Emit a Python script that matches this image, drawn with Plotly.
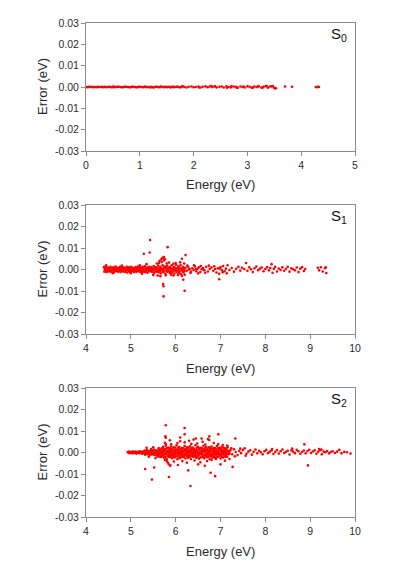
import plotly.graph_objects as go

# ---------------- data ----------------
s0_energy = [0.01,0.05,0.09,0.13,0.18,0.22,0.27,0.31,0.35,0.40,0.44,0.48,0.53,0.57,0.61,0.66,0.70,0.74,0.79,0.83,
             0.87,0.92,0.96,1.00,1.05,1.09,1.13,1.18,1.22,1.26,1.31,1.35,1.39,1.44,1.48,1.52,1.57,1.61,1.65,1.70,
             1.74,1.78,1.83,1.87,1.91,1.96,2.00,2.04,2.09,2.13,2.17,2.22,2.26,2.30,2.35,2.39,2.43,2.48,2.52,2.56,
             2.61,2.65,2.69,2.74,2.78,2.82,2.87,2.91,2.95,3.00,3.04,3.08,3.13,3.17,3.21,3.26,3.30,3.34,3.38,3.42,
             3.45,3.50,3.53,3.70,3.83,4.27,4.29,4.31,4.33,
             0.50,1.20,1.80,2.10,2.33,2.40,2.62,2.70,2.80,2.93,3.10,3.20,3.28,3.36,3.47,3.51,
             0.03,0.07,0.11,0.15,0.20,0.24,0.29,0.33,0.37,0.42,0.46,0.51,0.55,0.59,0.64,0.68,0.72,0.77,0.81,0.85,
             0.90,0.94,0.98,1.03,1.07,1.11,1.16,1.24,1.29,1.33,1.37,1.42,1.46,1.50,1.55,1.59,1.63,1.68,1.72,1.76]
s0_error = [0.0000,0.0001,0.0000,-0.0001,0.0000,0.0001,0.0000,-0.0001,0.0001,0.0000,0.0000,-0.0001,0.0001,0.0000,0.0001,-0.0001,0.0000,0.0001,0.0000,-0.0001,
            0.0001,0.0000,-0.0001,0.0001,0.0000,0.0002,-0.0001,0.0000,0.0001,-0.0002,0.0001,0.0000,0.0002,-0.0001,0.0001,0.0000,-0.0002,0.0002,0.0000,0.0001,
            -0.0001,0.0002,0.0000,-0.0002,0.0001,0.0002,-0.0001,0.0000,0.0002,-0.0002,0.0001,0.0003,-0.0001,0.0002,0.0000,0.0003,-0.0002,0.0001,0.0002,-0.0002,
            0.0003,0.0000,-0.0002,0.0002,0.0001,-0.0003,0.0002,0.0000,-0.0002,0.0003,0.0001,-0.0003,0.0002,0.0000,0.0003,-0.0002,0.0001,0.0004,-0.0003,0.0002,
            0.0003,-0.0004,-0.0006,0.0002,0.0001,0.0000,-0.0001,0.0001,0.0000,
            0.0002,-0.0002,0.0003,-0.0002,0.0004,0.0003,-0.0003,0.0003,-0.0003,0.0002,-0.0003,0.0003,-0.0004,0.0005,0.0004,-0.0006,
            -0.0001,0.0000,0.0001,0.0000,-0.0001,0.0000,0.0001,0.0000,-0.0001,0.0001,0.0000,-0.0001,0.0000,0.0001,0.0000,-0.0001,0.0001,0.0000,-0.0001,0.0001,
            0.0000,-0.0001,0.0001,0.0000,-0.0001,0.0001,0.0000,-0.0001,0.0001,0.0000,-0.0001,0.0001,0.0000,-0.0001,0.0001,0.0000,-0.0001,0.0001,0.0000,-0.0001]

s1_energy = [4.40,4.45,4.50,4.55,4.61,4.66,4.71,4.76,4.81,4.86,4.91,4.96,5.01,5.06,5.11,5.16,5.21,5.26,5.31,5.36,5.41,5.46,5.51,5.56,5.61,5.66,5.71,5.76,5.81,5.86,5.91,5.96,6.01,6.06,6.11,6.16,
             4.42,4.47,4.52,4.58,4.63,4.68,4.73,4.78,4.83,4.88,4.93,4.98,5.03,5.08,5.13,5.18,5.23,5.28,5.33,5.38,5.43,5.48,5.53,5.58,5.63,5.68,5.73,5.78,5.83,5.88,5.93,5.98,6.03,6.08,6.13,6.18,
             4.41,4.46,4.51,4.56,4.62,4.67,4.72,4.77,4.82,4.87,4.92,4.97,5.02,5.07,5.12,5.17,5.22,5.27,5.32,5.37,5.42,5.47,5.52,5.57,5.62,5.67,5.72,5.77,5.82,5.87,5.92,5.97,6.02,6.07,6.12,6.17,
             4.43,4.48,4.53,4.59,4.64,4.69,4.74,4.79,4.84,4.89,4.94,4.99,5.04,5.09,5.14,5.19,5.24,5.29,5.34,5.39,5.44,5.49,5.54,5.59,5.64,5.69,5.74,5.79,5.84,5.89,5.94,5.99,6.04,6.09,6.14,6.19,
             4.44,4.49,4.54,4.60,4.65,4.70,4.75,4.80,4.85,4.90,4.95,5.00,5.05,5.10,5.15,5.20,5.25,5.30,5.35,5.40,5.45,5.50,5.55,5.60,5.65,5.70,5.75,5.80,5.85,5.90,5.95,6.00,6.05,6.10,6.15,6.20,
             5.35,5.50,5.58,5.63,5.69,5.74,5.70,5.76,5.80,5.85,5.90,5.95,6.00,6.05,6.10,6.14,6.19,5.60,5.66,5.78,5.95,6.20,4.45,4.60,4.80,5.00,5.20,5.25,
             5.43,5.82,5.29,5.42,6.22,5.71,5.74,5.68,5.64,5.72,5.73,5.73,6.20,6.17,6.97,6.14,
             6.22,6.25,6.28,6.31,6.34,6.37,6.40,6.43,6.46,6.49,6.52,6.55,6.58,6.61,6.64,6.68,6.72,6.76,6.80,6.84,6.88,6.91,6.94,6.97,7.00,7.03,7.06,7.09,7.12,7.16,
             7.20,7.25,7.30,7.35,7.40,7.44,7.48,7.53,7.57,7.60,7.64,7.68,7.72,7.76,7.80,7.84,7.88,7.92,7.96,8.00,8.04,8.08,8.11,8.14,8.16,8.19,8.22,8.26,8.30,8.34,
             8.38,8.42,8.46,8.50,8.54,8.58,8.62,8.66,8.70,8.74,8.78,8.82,8.86,8.89,9.17,9.20,9.24,9.28,9.33,9.36,9.35,
             6.26,6.33,6.41,6.50,6.56,6.66,6.74,6.86,6.98,7.05,7.14,6.30,6.45,6.62]
s1_error = [0.0011,0.0013,0.0009,0.0012,0.0010,0.0014,0.0008,0.0012,0.0011,0.0009,0.0013,0.0010,0.0012,0.0008,0.0011,0.0014,0.0010,0.0012,0.0015,0.0009,0.0013,0.0011,0.0016,0.0010,0.0018,0.0012,0.0020,0.0014,0.0017,0.0011,0.0019,0.0013,0.0022,0.0015,0.0021,0.0012,
            0.0001,-0.0002,0.0003,0.0000,0.0002,-0.0001,0.0004,-0.0002,0.0001,0.0003,-0.0001,0.0002,0.0000,0.0003,-0.0002,0.0001,0.0004,-0.0001,0.0002,0.0000,0.0003,-0.0002,0.0001,0.0004,-0.0003,0.0002,0.0000,0.0005,-0.0002,0.0003,0.0001,-0.0003,0.0004,0.0000,0.0002,-0.0001,
            -0.0010,-0.0012,-0.0009,-0.0011,-0.0013,-0.0008,-0.0010,-0.0012,-0.0009,-0.0011,-0.0014,-0.0010,-0.0008,-0.0012,-0.0011,-0.0009,-0.0013,-0.0010,-0.0012,-0.0015,-0.0009,-0.0011,-0.0016,-0.0010,-0.0013,-0.0018,-0.0012,-0.0020,-0.0011,-0.0016,-0.0014,-0.0019,-0.0012,-0.0017,-0.0022,-0.0013,
            0.0006,0.0005,0.0007,0.0006,0.0004,0.0007,0.0005,0.0006,0.0008,0.0005,0.0006,0.0007,0.0004,0.0006,0.0005,0.0007,0.0006,0.0008,0.0005,0.0007,0.0006,0.0004,0.0008,0.0006,0.0007,0.0005,0.0009,0.0006,0.0007,0.0008,0.0005,0.0007,0.0006,0.0009,0.0005,0.0007,
            -0.0005,-0.0007,-0.0006,-0.0004,-0.0006,-0.0007,-0.0005,-0.0006,-0.0008,-0.0005,-0.0006,-0.0007,-0.0004,-0.0006,-0.0005,-0.0007,-0.0006,-0.0008,-0.0005,-0.0007,-0.0006,-0.0004,-0.0008,-0.0006,-0.0007,-0.0005,-0.0009,-0.0006,-0.0007,-0.0008,-0.0005,-0.0007,-0.0006,-0.0009,-0.0005,-0.0007,
            0.0025,-0.0025,0.0028,0.0030,0.0035,0.0042,0.0052,0.0048,0.0028,0.0032,-0.0024,0.0027,0.0030,-0.0026,0.0034,-0.0030,0.0028,-0.0028,-0.0031,-0.0027,-0.0028,-0.0024,0.0019,-0.0017,0.0018,-0.0017,0.0020,-0.0020,
            0.0137,0.0104,0.0073,0.0079,0.0067,0.0055,0.0058,0.0047,0.0040,-0.0068,-0.0078,-0.0125,-0.0099,-0.0048,-0.0045,0.0050,
            0.0008,-0.0005,0.0012,0.0002,-0.0010,0.0006,-0.0002,0.0014,-0.0008,0.0004,0.0010,-0.0012,0.0001,0.0007,-0.0004,0.0013,-0.0009,0.0003,0.0009,-0.0006,0.0002,-0.0014,0.0006,-0.0020,0.0011,-0.0003,0.0016,-0.0008,0.0004,0.0020,
            -0.0002,0.0007,-0.0010,0.0003,0.0012,-0.0005,0.0008,0.0002,0.0030,-0.0006,0.0010,0.0001,-0.0012,0.0006,0.0014,-0.0003,0.0004,0.0009,-0.0008,0.0002,0.0011,-0.0004,0.0007,0.0025,-0.0015,0.0003,0.0012,-0.0009,0.0005,-0.0002,
            0.0010,-0.0006,0.0003,0.0013,-0.0010,0.0006,0.0001,-0.0004,0.0009,-0.0012,0.0004,0.0011,-0.0007,0.0002,0.0008,-0.0004,0.0010,-0.0009,0.0006,-0.0016,0.0010,
            0.0018,-0.0016,0.0020,-0.0018,0.0016,-0.0015,0.0018,0.0015,0.0004,-0.0013,-0.0018,0.0000,0.0002,-0.0001]

s2_energy = [4.93,4.96,4.99,5.02,5.05,5.08,5.11,5.14,5.17,5.20,5.23,5.26,5.29,
             4.95,4.98,5.01,5.04,5.07,5.10,5.13,5.16,5.19,5.22,5.25,5.28,
             5.72,5.78,5.84,5.90,5.96,6.02,6.08,6.14,6.20,6.26,6.32,6.38,6.44,6.50,6.56,6.62,6.68,6.74,6.80,6.86,6.92,6.98,7.04,7.10,7.16,
             5.31,5.36,5.41,5.46,5.51,5.56,5.61,5.66,5.71,5.76,5.81,5.86,5.91,5.96,6.01,6.06,6.11,6.16,6.21,6.26,6.31,6.36,6.41,6.46,6.51,6.56,6.61,6.66,6.71,6.76,6.81,6.86,6.91,6.96,7.01,7.06,7.11,7.17,
             5.33,5.38,5.43,5.48,5.53,5.58,5.63,5.68,5.73,5.78,5.83,5.88,5.93,5.98,6.03,6.08,6.13,6.18,6.23,6.28,6.33,6.38,6.43,6.48,6.53,6.58,6.63,6.68,6.73,6.78,6.83,6.88,6.93,6.98,7.03,7.08,7.13,7.19,
             5.32,5.37,5.42,5.47,5.52,5.57,5.62,5.67,5.72,5.77,5.82,5.87,5.92,5.97,6.02,6.07,6.12,6.17,6.22,6.27,6.32,6.37,6.42,6.47,6.52,6.57,6.62,6.67,6.72,6.77,6.82,6.87,6.92,6.97,7.02,7.07,7.12,7.18,
             5.74,5.80,5.86,5.92,5.98,6.04,6.10,6.16,6.22,6.28,6.34,6.40,6.46,6.52,6.58,6.64,6.70,6.76,6.82,6.88,6.94,7.00,7.06,7.12,
             5.30,5.35,5.40,5.45,5.50,5.55,5.60,5.65,5.70,5.75,5.80,5.85,5.90,5.95,6.00,6.05,6.10,6.15,6.20,6.25,6.30,6.35,6.40,6.45,6.50,6.55,6.60,6.65,6.70,6.75,6.80,6.85,6.90,6.95,7.00,7.05,7.10,7.15,
             5.34,5.39,5.44,5.49,5.54,5.59,5.64,5.69,5.74,5.79,5.84,5.89,5.94,5.99,6.04,6.09,6.14,6.19,6.24,6.29,6.34,6.39,6.44,6.49,6.54,6.59,6.64,6.69,6.74,6.79,6.84,6.89,6.94,6.99,7.04,7.09,7.14,7.20,
             5.63,5.69,5.75,5.81,5.87,5.93,5.99,6.05,6.11,6.17,6.23,6.29,6.35,6.41,6.47,6.53,6.59,6.65,6.71,6.77,6.83,6.89,6.95,7.01,7.07,7.13,
             5.65,5.71,5.77,5.83,5.89,5.95,6.01,6.07,6.13,6.19,6.25,6.31,6.37,6.43,6.49,6.55,6.61,6.67,6.73,6.79,6.85,6.91,6.97,7.03,7.09,7.15,
             5.35,5.40,5.50,5.55,5.62,5.67,5.76,5.78,5.80,5.82,5.84,5.88,5.76,5.90,5.96,6.04,6.10,6.15,6.20,6.25,6.30,6.35,6.42,6.48,6.55,6.60,6.66,6.70,6.75,6.80,
             6.85,6.90,6.95,7.00,7.05,7.10,7.15,7.20,5.45,5.60,6.65,6.50,6.05,6.40,5.87,6.58,6.72,
             5.78,6.20,5.77,5.78,6.95,6.75,7.33,8.87,8.95,5.32,5.47,5.85,6.33,6.78,6.88,6.28,7.27,5.52,5.87,6.20,6.10,6.45,
             7.22,7.26,7.30,7.34,7.38,7.42,7.46,7.50,7.54,7.58,7.62,7.66,7.70,7.74,7.78,7.82,7.86,7.90,7.94,7.98,8.02,8.06,8.10,8.14,8.18,8.22,8.26,8.30,8.34,8.38,
             8.42,8.46,8.50,8.54,8.58,8.62,8.66,8.70,8.74,8.78,8.82,8.86,8.90,8.94,8.98,9.02,9.06,9.10,9.14,9.18,9.22,9.26,9.30,9.34,9.38,9.42,9.46,9.50,9.55,9.60,
             9.65,9.70,9.76,9.82,9.90,
             7.24,7.32,7.44,7.56,8.60,9.20,9.25,8.15]
s2_error = [0.0002,0.0004,0.0001,0.0003,0.0005,0.0002,0.0004,0.0001,0.0003,0.0006,0.0002,0.0004,0.0003,
            -0.0002,-0.0003,-0.0001,-0.0004,-0.0002,-0.0003,-0.0005,-0.0001,-0.0003,-0.0002,-0.0006,-0.0004,
            0.0026,0.0031,0.0022,0.0028,0.0024,0.0033,0.0027,0.0021,0.0030,0.0025,0.0029,0.0023,0.0034,0.0026,0.0022,0.0031,0.0027,0.0024,0.0028,0.0021,0.0030,0.0023,0.0026,0.0020,0.0024,
            0.0009,0.0012,0.0007,0.0011,0.0014,0.0010,0.0008,0.0013,0.0011,0.0015,0.0009,0.0012,0.0014,0.0010,0.0013,0.0016,0.0011,0.0009,0.0014,0.0012,0.0010,0.0015,0.0013,0.0011,0.0016,0.0009,0.0012,0.0014,0.0010,0.0013,0.0015,0.0011,0.0009,0.0014,0.0012,0.0010,0.0013,0.0008,
            0.0001,-0.0002,0.0003,0.0000,-0.0001,0.0002,-0.0003,0.0001,0.0004,-0.0002,0.0000,0.0003,-0.0001,0.0002,-0.0003,0.0001,0.0000,0.0004,-0.0002,0.0001,0.0003,-0.0001,0.0000,0.0002,-0.0003,0.0001,0.0004,-0.0002,0.0000,0.0003,-0.0001,0.0002,0.0000,-0.0002,0.0003,0.0001,-0.0001,0.0002,
            -0.0010,-0.0008,-0.0012,-0.0009,-0.0011,-0.0013,-0.0010,-0.0014,-0.0012,-0.0009,-0.0015,-0.0011,-0.0013,-0.0010,-0.0016,-0.0012,-0.0009,-0.0014,-0.0011,-0.0013,-0.0015,-0.0010,-0.0012,-0.0016,-0.0011,-0.0009,-0.0014,-0.0012,-0.0010,-0.0015,-0.0013,-0.0011,-0.0009,-0.0014,-0.0012,-0.0010,-0.0013,-0.0008,
            -0.0024,-0.0029,-0.0021,-0.0027,-0.0023,-0.0031,-0.0026,-0.0022,-0.0028,-0.0024,-0.0030,-0.0021,-0.0025,-0.0029,-0.0023,-0.0027,-0.0022,-0.0031,-0.0024,-0.0026,-0.0021,-0.0028,-0.0023,-0.0020,
            0.0005,0.0007,0.0006,0.0004,0.0007,0.0005,0.0006,0.0008,0.0005,0.0006,0.0007,0.0004,0.0006,0.0005,0.0007,0.0006,0.0008,0.0005,0.0007,0.0006,0.0004,0.0008,0.0006,0.0007,0.0005,0.0009,0.0006,0.0007,0.0008,0.0005,0.0007,0.0006,0.0009,0.0005,0.0007,0.0006,0.0005,0.0007,
            -0.0006,-0.0005,-0.0007,-0.0006,-0.0004,-0.0007,-0.0005,-0.0006,-0.0008,-0.0005,-0.0006,-0.0007,-0.0004,-0.0006,-0.0005,-0.0007,-0.0006,-0.0008,-0.0005,-0.0007,-0.0006,-0.0004,-0.0008,-0.0006,-0.0007,-0.0005,-0.0009,-0.0006,-0.0007,-0.0008,-0.0005,-0.0007,-0.0006,-0.0009,-0.0005,-0.0007,-0.0006,-0.0005,
            0.0018,0.0020,0.0017,0.0021,0.0019,0.0018,0.0022,0.0019,0.0017,0.0020,0.0018,0.0021,0.0019,0.0017,0.0022,0.0018,0.0020,0.0019,0.0017,0.0021,0.0018,0.0020,0.0019,0.0017,0.0021,0.0018,
            -0.0019,-0.0017,-0.0021,-0.0018,-0.0020,-0.0019,-0.0017,-0.0022,-0.0018,-0.0020,-0.0019,-0.0021,-0.0017,-0.0018,-0.0020,-0.0022,-0.0019,-0.0017,-0.0021,-0.0018,-0.0020,-0.0019,-0.0017,-0.0021,-0.0018,-0.0020,
            0.0022,-0.0020,0.0024,-0.0026,0.0019,-0.0021,0.0045,0.0040,-0.0038,-0.0045,-0.0052,-0.0060,-0.0035,0.0038,-0.0042,0.0044,0.0052,-0.0040,0.0047,-0.0048,0.0055,0.0040,-0.0037,0.0042,-0.0045,0.0050,0.0037,-0.0040,0.0058,-0.0035,
            0.0044,-0.0030,0.0039,-0.0055,0.0035,-0.0038,0.0032,-0.0030,0.0016,-0.0019,-0.0062,-0.0055,-0.0058,0.0060,0.0057,0.0065,0.0062,
            0.0127,0.0114,0.0075,0.0069,0.0085,0.0075,0.0065,0.0038,-0.0060,-0.0077,-0.0126,-0.0114,-0.0156,-0.0094,-0.0110,-0.0083,-0.0067,-0.0070,-0.0060,0.0085,0.0070,0.0065,
            0.0010,-0.0008,0.0015,0.0002,-0.0012,0.0007,-0.0003,0.0012,0.0020,-0.0006,0.0004,0.0010,-0.0010,0.0003,0.0014,-0.0004,0.0008,0.0001,-0.0008,0.0006,0.0012,-0.0003,0.0004,0.0009,-0.0007,0.0002,0.0011,-0.0005,0.0006,0.0014,
            -0.0002,0.0003,0.0008,-0.0009,0.0010,0.0004,-0.0003,0.0012,0.0006,-0.0006,0.0002,0.0009,-0.0004,0.0007,0.0013,-0.0002,0.0005,0.0010,-0.0006,0.0003,0.0011,-0.0008,0.0004,0.0001,0.0007,-0.0004,0.0002,0.0006,-0.0002,0.0004,
            0.0012,-0.0003,0.0003,0.0001,-0.0005,
            0.0020,-0.0018,0.0018,-0.0015,0.0018,0.0016,0.0014,0.0016]

panel_labels = ["S<sub>0</sub>", "S<sub>1</sub>", "S<sub>2</sub>"]
x_ranges = [[0, 5], [4, 10], [4, 10]]
y_tickvals = [-0.03, -0.02, -0.01, 0.0, 0.01, 0.02, 0.03]
y_ticktext = ["-0.03", "-0.02", "-0.01", "0.00", "0.01", "0.02", "0.03"]

# ---------------- figure ----------------
W, H = 393, 567
px_x = (86, 355)
px_y = [(23, 151), (205, 334), (388, 517)]

FONT = "Liberation Sans, Arial, sans-serif"
AXC = "#8a8a8a"
TXT = "#2b2b2b"

fig = go.Figure()
series = [(s0_energy, s0_error), (s1_energy, s1_error), (s2_energy, s2_error)]
for i, (xs, ys) in enumerate(series):
    suf = "" if i == 0 else str(i + 1)
    fig.add_trace(go.Scatter(x=xs, y=ys, mode="markers",
                             marker=dict(color="#ff0000", size=2.6, line=dict(width=0)),
                             xaxis="x" + suf, yaxis="y" + suf, showlegend=False,
                             hoverinfo="skip"))

layout = dict(width=W, height=H, margin=dict(l=0, r=0, t=0, b=0, autoexpand=False),
              paper_bgcolor="white", plot_bgcolor="white",
              font=dict(family=FONT, color=TXT), showlegend=False)
annotations = []
for i in range(3):
    suf = "" if i == 0 else str(i + 1)
    top, bot = px_y[i]
    xd = [px_x[0] / W, px_x[1] / W]
    yd = [1 - bot / H, 1 - top / H]
    layout["xaxis" + suf] = dict(domain=xd, range=x_ranges[i], anchor="y" + suf,
                                 dtick=1, tick0=0, showgrid=False, zeroline=False,
                                 showline=True, linecolor=AXC, linewidth=1, mirror=True,
                                 ticks="outside", ticklen=4, tickcolor=AXC,
                                 tickfont=dict(size=10.5, family=FONT, color=TXT))
    layout["yaxis" + suf] = dict(domain=yd, range=[-0.03, 0.03], anchor="x" + suf,
                                 tickvals=y_tickvals, ticktext=y_ticktext,
                                 showgrid=False, zeroline=False,
                                 showline=True, linecolor=AXC, linewidth=1, mirror=True,
                                 ticks="outside", ticklen=4, tickcolor=AXC,
                                 tickfont=dict(size=10.5, family=FONT, color=TXT))
    annotations.append(dict(text="Energy (eV)", xref="paper", yref="paper",
                            x=(px_x[0] + px_x[1]) / 2 / W, y=1 - (bot + 34) / H,
                            showarrow=False, font=dict(size=13, family=FONT, color=TXT),
                            xanchor="center", yanchor="middle"))
    annotations.append(dict(text="Error (eV)", xref="paper", yref="paper",
                            x=42 / W, y=1 - (top + bot) / 2 / H, textangle=-90,
                            showarrow=False, font=dict(size=13, family=FONT, color=TXT),
                            xanchor="center", yanchor="middle"))
    annotations.append(dict(text=panel_labels[i], xref="paper", yref="paper",
                            x=349 / W, y=1 - (top + 11) / H,
                            showarrow=False, font=dict(size=15, family=FONT, color="#111111"),
                            xanchor="right", yanchor="middle"))
layout["annotations"] = annotations
fig.update_layout(**layout)
fig.write_html("out.html", config={"displayModeBar": False, "staticPlot": True},
               post_script="document.body.style.margin='0';document.body.style.overflow='hidden';")
